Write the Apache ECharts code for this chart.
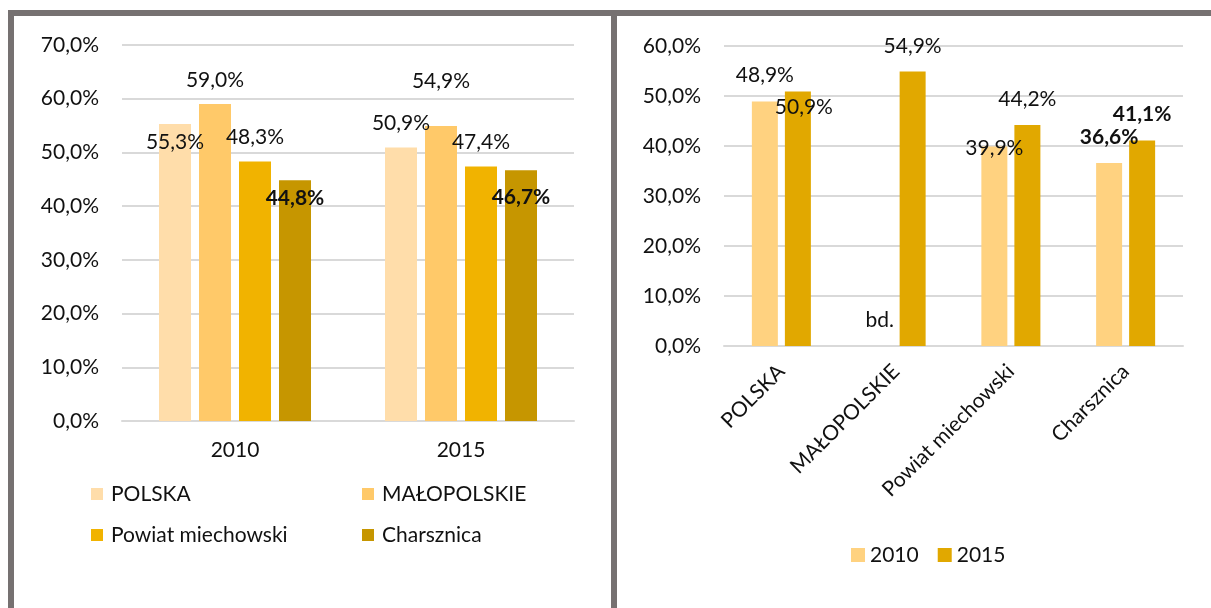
<!DOCTYPE html>
<html>
<head>
<meta charset="utf-8">
<script src="https://cdn.jsdelivr.net/npm/echarts@6/dist/echarts.min.js"></script>
<style>
  html, body { margin: 0; padding: 0; background: #fff; }
  #chart { width: 1211px; height: 608px; }
</style>
</head>
<body>
<div id="chart"></div>
<script>
// dane - wykres lewy (lata)
const years = ['2010', '2015']
const leftPolska = [55.3, 50.9]
const leftMalopolskie = [59.0, 54.9]
const leftPowiat = [48.3, 47.4]
const leftCharsznica = [44.8, 46.7]
const leftMax = 70

// dane - wykres prawy (jednostki)
const regions = ['POLSKA', 'MAŁOPOLSKIE', 'Powiat miechowski', 'Charsznica']
const right2010 = [48.9, null, 39.9, 36.6] // null = bd.
const right2015 = [50.9, 54.9, 44.2, 41.1]
const rightMax = 60

const FONT = 'Lato'
const TXT = '#111'
const GRID = '#D9D9D9'
const FRAME = '#767171'

const pct = v => v.toFixed(1).replace('.', ',') + '%'

// przesuniecia etykiet (jak w oryginale z Excela)
const leftNudge = {
  POLSKA: [[0, 42], [0, 0]],
  'MAŁOPOLSKIE': [[0, 0], [0, -21]],
  'Powiat miechowski': [[0, 0], [0, 0]],
  Charsznica: [[0, 42], [0, 51]]
}
const rightNudge = {
  '2010': [[0, -2], [0, -2], [0, 26], [0, -2]],
  '2015': [[6, 40], [0, -1], [0, -2], [0, -2]]
}

const labelBase = {
  show: true,
  position: 'top',
  distance: 13,
  fontFamily: FONT,
  fontSize: 21,
  lineHeight: 22,
  color: TXT
}

const leftSeries = (name, values, color) => ({
  name,
  type: 'bar',
  xAxisIndex: 0,
  yAxisIndex: 0,
  barWidth: 32,
  barGap: '25%',
  itemStyle: { color },
  data: values.map((v, i) => ({
    value: v,
    label: {
      offset: leftNudge[name][i],
      fontWeight: name === 'Charsznica' ? 'bold' : 'normal'
    }
  })),
  label: { ...labelBase, formatter: p => pct(p.value) }
})

const rightSeries = (name, values, color) => ({
  name,
  type: 'bar',
  xAxisIndex: 1,
  yAxisIndex: 1,
  barWidth: 26,
  barGap: '27%',
  itemStyle: { color },
  data: values.map((v, i) => ({
    value: v === null ? 0 : v,
    label: {
      offset: rightNudge[name][i],
      fontWeight: i === 3 ? 'bold' : 'normal',
      formatter: v === null ? 'bd.' : pct(v)
    }
  })),
  label: { ...labelBase }
})

const yAxisCommon = max => ({
  type: 'value',
  min: 0,
  max,
  interval: 10,
  axisLine: { show: false },
  axisTick: { show: false },
  splitLine: { lineStyle: { color: GRID, width: 2 } },
  axisLabel: {
    formatter: v => pct(v),
    fontFamily: FONT,
    fontSize: 21,
    color: TXT,
    margin: 23
  }
})

const chart = echarts.init(document.getElementById('chart'))

const option = {
  animation: false,
  backgroundColor: '#fff',
  textStyle: { fontFamily: FONT },
  grid: [
    { left: 122, top: 45, width: 452, height: 376 },
    { left: 724, top: 46, width: 459, height: 300 }
  ],
  xAxis: [
    {
      type: 'category',
      gridIndex: 0,
      data: years,
      axisTick: { show: false },
      axisLine: { lineStyle: { color: GRID, width: 2 } },
      axisLabel: { fontFamily: FONT, fontSize: 21, color: TXT, margin: 19 }
    },
    {
      type: 'category',
      gridIndex: 1,
      data: regions,
      axisTick: { show: false },
      axisLine: { lineStyle: { color: GRID, width: 2 } },
      axisLabel: { fontFamily: FONT, fontSize: 21, color: TXT, margin: 22, rotate: 45, interval: 0 }
    }
  ],
  yAxis: [
    { ...yAxisCommon(leftMax), gridIndex: 0 },
    { ...yAxisCommon(rightMax), gridIndex: 1 }
  ],
  legend: [
    {
      orient: 'vertical',
      left: 86,
      top: 478,
      itemWidth: 12,
      itemHeight: 12,
      itemGap: 19,
      icon: 'rect',
      data: ['POLSKA', 'Powiat miechowski'],
      textStyle: { fontFamily: FONT, fontSize: 21, lineHeight: 22, color: TXT, padding: [0, 0, 0, 3] }
    },
    {
      orient: 'vertical',
      left: 357,
      top: 478,
      itemWidth: 12,
      itemHeight: 12,
      itemGap: 19,
      icon: 'rect',
      data: ['MAŁOPOLSKIE', 'Charsznica'],
      textStyle: { fontFamily: FONT, fontSize: 21, lineHeight: 22, color: TXT, padding: [0, 0, 0, 3] }
    },
    {
      orient: 'horizontal',
      left: 846,
      top: 539,
      itemWidth: 14,
      itemHeight: 14,
      itemGap: 19,
      icon: 'rect',
      data: ['2010', '2015'],
      textStyle: { fontFamily: FONT, fontSize: 21, lineHeight: 22, color: TXT }
    }
  ],
  // ramka wokol obu wykresow
  graphic: [
    { type: 'rect', shape: { x: 8, y: 10, width: 1203, height: 6 }, style: { fill: FRAME }, silent: true },
    { type: 'rect', shape: { x: 8, y: 10, width: 6, height: 598 }, style: { fill: FRAME }, silent: true },
    { type: 'rect', shape: { x: 611, y: 10, width: 6, height: 598 }, style: { fill: FRAME }, silent: true }
  ],
  series: [
    leftSeries('POLSKA', leftPolska, '#FFDDAA'),
    leftSeries('MAŁOPOLSKIE', leftMalopolskie, '#FFC969'),
    leftSeries('Powiat miechowski', leftPowiat, '#F1B300'),
    leftSeries('Charsznica', leftCharsznica, '#C69600'),
    rightSeries('2010', right2010, '#FFD280'),
    rightSeries('2015', right2015, '#E1A800')
  ]
}

chart.setOption(option)
</script>
</body>
</html>
